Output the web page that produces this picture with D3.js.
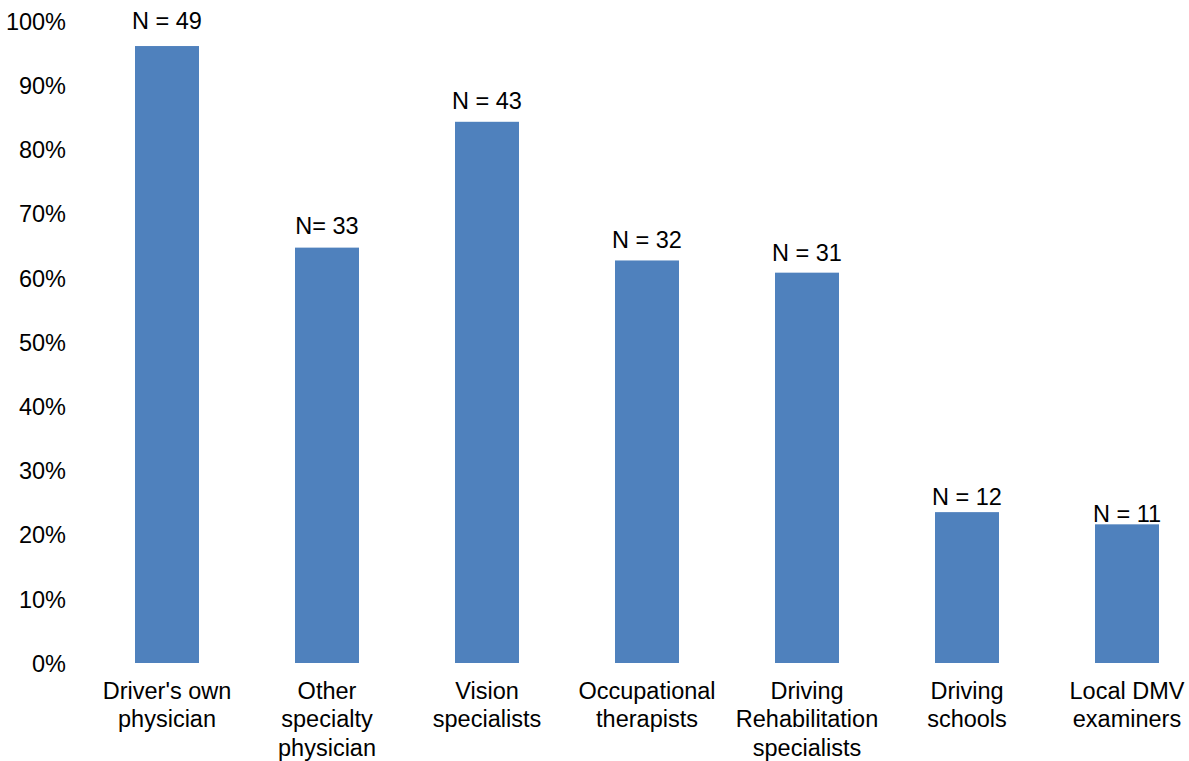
<!DOCTYPE html>
<html>
<head>
<meta charset="utf-8">
<script src="https://cdn.jsdelivr.net/npm/d3@7"></script>
<style>
  html, body { margin: 0; padding: 0; background: #fff; }
  svg { display: block; }
  text { font-family: "Liberation Sans", Arial, sans-serif; fill: #000; }
</style>
</head>
<body>
<svg id="chart" width="1189" height="761"></svg>
<script>
// ---- data ----
const categories = [
  ["Driver's own", "physician"],
  ["Other", "specialty", "physician"],
  ["Vision", "specialists"],
  ["Occupational", "therapists"],
  ["Driving", "Rehabilitation", "specialists"],
  ["Driving", "schools"],
  ["Local DMV", "examiners"]
];
const percentValues = [96.1, 64.7, 84.3, 62.7, 60.8, 23.5, 21.6];
const nLabels = ["N = 49", "N= 33", "N = 43", "N = 32", "N = 31", "N = 12", "N = 11"];
const yTicks = [0, 10, 20, 30, 40, 50, 60, 70, 80, 90, 100];

// ---- layout / style ----
const fontSize = 23.5;
const barColor = "#4f81bd";
const labelLift = [17, 14, 13, 12, 12, 7, 2.5]; // px gap between label baseline and bar top

const svg = d3.select("#chart");
const keys = categories.map((c, i) => i);

const x = d3.scaleBand()
  .domain(keys)
  .range([87, 1207])
  .paddingInner(0.6)
  .paddingOuter(0.3);

const y = d3.scaleLinear()
  .domain([0, 100])
  .range([663, 21]);

// y axis (labels only)
const yAxis = d3.axisLeft(y)
  .tickValues(yTicks)
  .tickFormat(d => d + "%")
  .tickSize(0)
  .tickPadding(0);

const yg = svg.append("g")
  .attr("transform", "translate(66,0)")
  .call(yAxis);
yg.select(".domain").remove();
yg.selectAll("text")
  .attr("font-size", fontSize)
  .attr("font-family", "Liberation Sans, Arial, sans-serif")
  .attr("fill", "#000")
  .attr("dy", "0.35em");

// bars
svg.append("g").selectAll("rect")
  .data(percentValues)
  .join("rect")
  .attr("x", (d, i) => x(i))
  .attr("width", x.bandwidth())
  .attr("y", d => y(d))
  .attr("height", d => y(0) - y(d))
  .attr("fill", barColor);

// N labels
svg.append("g").selectAll("text")
  .data(percentValues)
  .join("text")
  .attr("x", (d, i) => x(i) + x.bandwidth() / 2)
  .attr("y", (d, i) => y(d) - labelLift[i])
  .attr("text-anchor", "middle")
  .attr("font-size", fontSize)
  .text((d, i) => nLabels[i]);

// x axis (category labels only)
const xAxis = d3.axisBottom(x).tickSize(0).tickFormat("");
const xg = svg.append("g")
  .attr("transform", "translate(0,663)")
  .call(xAxis);
xg.select(".domain").remove();
xg.selectAll(".tick").each(function(d) {
  const t = d3.select(this).append("text")
    .attr("text-anchor", "middle")
    .attr("font-size", fontSize)
    .attr("fill", "#000")
    .attr("y", 36);
  categories[d].forEach((line, j) => {
    t.append("tspan")
      .attr("x", 0)
      .attr("dy", j === 0 ? 0 : 28.3)
      .text(line);
  });
});
</script>
</body>
</html>
